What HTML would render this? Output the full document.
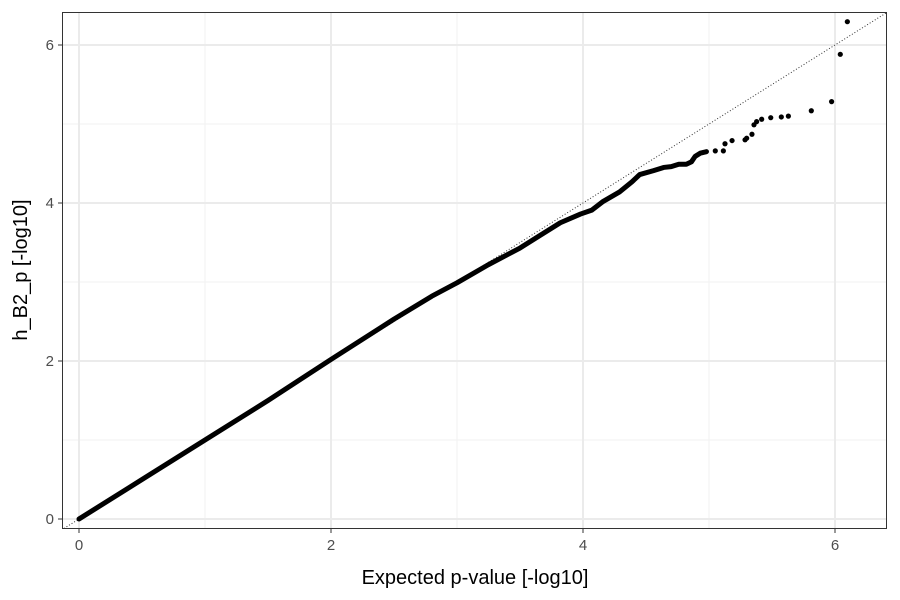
<!DOCTYPE html>
<html><head><meta charset="utf-8"><style>
body{margin:0;background:#fff;}
svg{display:block;font-family:"Liberation Sans",sans-serif;}
</style></head><body>
<svg id="chart" width="900" height="600">
<defs><clipPath id="pc"><rect x="62" y="12" width="825" height="517"/></clipPath></defs>
<rect x="0" y="0" width="900" height="600" fill="#fff"/>
<g id="grid"></g>
<g id="marks" clip-path="url(#pc)"></g>
<rect x="62.5" y="12.5" width="824" height="516" fill="none" stroke="#333" stroke-width="1"/>
<g id="axes"></g>
<text x="475" y="584" font-size="20" text-anchor="middle" fill="#000">Expected p-value [-log10]</text>
<text transform="translate(27,270) rotate(-90)" font-size="20" text-anchor="middle" fill="#000">h_B2_p [-log10]</text>
</svg>
<script>
const xTicks=[0,2,4,6];
const yTicks=[0,2,4,6];
const xMinor=[1,3,5];
const yMinor=[1,3,5];
const curveX=[0,0.5,1,1.5,2,2.5,2.8,3,3.25,3.5,3.65,3.82,3.98,4.07,4.16,4.29,4.39,4.45,4.56,4.64,4.70,4.76,4.82,4.86,4.89,4.93,4.98];
const curveY=[0,0.5,1,1.5,2.02,2.53,2.82,2.99,3.22,3.43,3.58,3.75,3.86,3.91,4.02,4.14,4.27,4.36,4.41,4.45,4.46,4.49,4.49,4.52,4.59,4.63,4.65];
const tailX=[5.05,5.114,5.127,5.183,5.286,5.299,5.341,5.357,5.378,5.418,5.49,5.574,5.63,5.812,5.973,6.042,6.098];
const tailY=[4.66,4.66,4.75,4.79,4.80,4.82,4.87,4.99,5.03,5.06,5.08,5.089,5.10,5.168,5.283,5.882,6.295];
const NS='http://www.w3.org/2000/svg';
const sx=v=>79+v*126, sy=v=>519-v*79;
const grid=document.getElementById('grid'),marks=document.getElementById('marks'),axes=document.getElementById('axes');
function mk(tag,attrs,parent){const e=document.createElementNS(NS,tag);for(const k in attrs)e.setAttribute(k,attrs[k]);parent.appendChild(e);return e;}
xMinor.forEach(v=>{const l=mk('line',{x1:sx(v),x2:sx(v),y1:12,y2:529,stroke:'#f2f2f2','stroke-width':1},grid);

});
yMinor.forEach(v=>{const l=mk('line',{x1:62,x2:887,y1:sy(v),y2:sy(v),stroke:'#f2f2f2','stroke-width':1},grid);

});
xTicks.forEach(v=>{const l=mk('line',{x1:sx(v),x2:sx(v),y1:12,y2:529,stroke:'#ebebeb','stroke-width':2},grid);


const t=mk('line',{x1:sx(v),x2:sx(v),y1:529,y2:533,stroke:'#333'},axes);


const tx=mk('text',{x:sx(v),y:550,'font-size':15,'text-anchor':'middle',fill:'#4d4d4d'},axes);tx.textContent=v;

});
yTicks.forEach(v=>{const l=mk('line',{x1:62,x2:887,y1:sy(v),y2:sy(v),stroke:'#ebebeb','stroke-width':2},grid);


const t=mk('line',{x1:58,x2:62,y1:sy(v),y2:sy(v),stroke:'#333'},axes);


const tx=mk('text',{x:54,y:sy(v)+5,'font-size':15,'text-anchor':'end',fill:'#4d4d4d'},axes);tx.textContent=v;

});
const d=mk('line',{x1:sx(-0.2),y1:sy(-0.2),x2:sx(6.6),y2:sy(6.6),stroke:'#333','stroke-width':1,'stroke-dasharray':'1 2'},marks);


const pl=mk('polyline',{points:curveX.map((x,i)=>sx(x)+','+sy(curveY[i])).join(' '),fill:'none',stroke:'#000','stroke-width':5,'stroke-linejoin':'round','stroke-linecap':'round'},marks);


tailX.forEach((x,i)=>{const c=mk('circle',{cx:sx(x),cy:sy(tailY[i]),r:2.6,fill:'#000'},marks);

});
</script>
</body></html>
